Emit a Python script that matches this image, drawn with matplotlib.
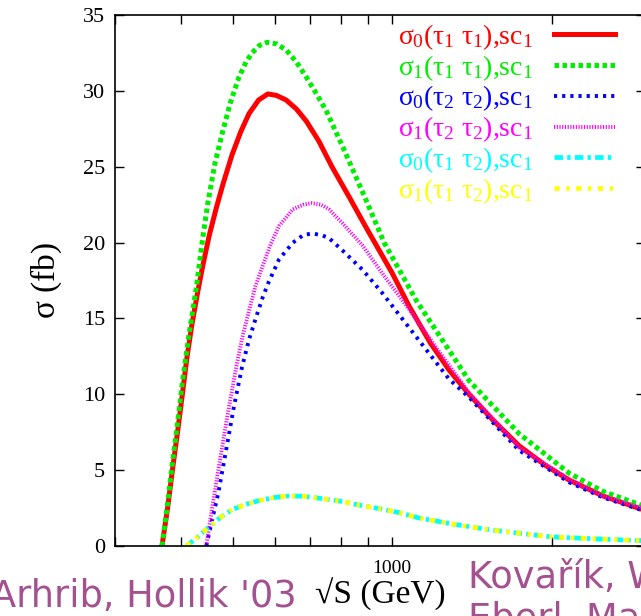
import matplotlib
matplotlib.use("Agg")
import matplotlib.pyplot as plt
from matplotlib.ticker import LogLocator, FixedLocator, NullFormatter, FixedFormatter

plt.rcParams['font.family'] = ['Liberation Serif', 'DejaVu Serif']
plt.rcParams['mathtext.fontset'] = 'custom'
plt.rcParams['mathtext.rm'] = 'Liberation Serif'
plt.rcParams['mathtext.it'] = 'Liberation Serif'
plt.rcParams['mathtext.bf'] = 'Liberation Serif:bold'

# sqrt(s) in GeV, cross sections in fb
x_red = [368, 377, 385, 394, 402, 410, 419, 430, 440, 452, 466, 480, 499, 518, 537, 560, 583, 605,
         631, 660, 689, 727, 770, 830, 893, 1000, 1077, 1180, 1281, 1397, 1550, 1737, 1950, 2158,
         2500, 3000]
y_red = [0, 2.5, 5.0, 7.6, 10.0, 12.4, 14.6, 16.8, 18.6, 20.5, 22.3, 23.9, 25.8, 27.3, 28.5, 29.4,
         29.8, 29.7, 29.4, 28.8, 28.0, 26.7, 25.0, 23.0, 21.0, 18.0, 15.8, 13.4, 11.6, 10.0, 8.3, 6.6,
         5.3, 4.35, 3.3, 2.35]

x_green = [368, 377, 385, 394, 402, 414, 427, 438, 449, 463, 478, 495, 514, 530, 544, 562, 581,
           605, 631, 660, 689, 720, 751, 812, 893, 966, 1110, 1281, 1397, 1737, 2158, 2500, 3000]
y_green = [0, 2.8, 5.5, 8.2, 10.8, 14.0, 17.0, 20.0, 22.6, 25.2, 27.2, 29.2, 30.9, 31.9, 32.5,
           33.0, 33.2, 33.1, 32.7, 31.9, 30.9, 29.8, 28.7, 26.1, 22.8, 20.0, 16.2, 12.9, 10.9, 7.4,
           4.8, 3.6, 2.6]

x_blue = [446, 458, 470, 486, 503, 521, 537, 554, 570, 585, 612, 650, 680, 706, 735, 760, 805,
          880, 957, 1110, 1281, 1397, 1737, 2158, 2500, 3000]
y_blue = [0, 1.8, 3.5, 6.3, 9.2, 11.8, 13.6, 15.1, 16.4, 17.4, 18.9, 20.0, 20.5, 20.6, 20.5,
          20.3, 19.5, 18.2, 16.7, 13.8, 11.0, 9.8, 6.3, 4.2, 3.2, 2.3]

x_mag = [446, 458, 471, 489, 508, 522, 537, 552, 569, 590, 612, 650, 680, 706, 735, 760, 805,
         880, 957, 1077, 1210, 1397, 1737, 2158, 2500, 3000]
y_mag = [0, 2.6, 5.2, 8.6, 11.8, 13.8, 15.5, 17.1, 18.4, 19.9, 21.1, 22.2, 22.5, 22.6, 22.5,
         22.2, 21.3, 19.8, 18.0, 15.6, 13.1, 10.1, 6.5, 4.4, 3.3, 2.45]

x_cyan = [409, 430, 451, 475, 499, 530, 561, 600, 639, 680, 728, 800, 866, 950, 1031, 1124,
          1300, 1543, 2002, 2500, 3000]
y_cyan = [0, 0.6, 1.25, 1.9, 2.4, 2.75, 3.0, 3.2, 3.3, 3.28, 3.15, 2.95, 2.7, 2.45, 2.2, 1.85,
          1.45, 1.05, 0.6, 0.45, 0.35]

x_yel = [409, 430, 451, 475, 499, 530, 561, 600, 639, 680, 728, 800, 866, 950, 1031, 1124,
         1300, 1543, 2002, 2500, 3000]
y_yel = [0, 0.6, 1.25, 1.9, 2.4, 2.75, 3.0, 3.2, 3.3, 3.28, 3.15, 2.95, 2.7, 2.45, 2.2, 1.85,
         1.45, 1.05, 0.6, 0.45, 0.35]

labels = [r'$\sigma_0(\tau_1\ \tau_1)$,sc$_1$',
          r'$\sigma_1(\tau_1\ \tau_1)$,sc$_1$',
          r'$\sigma_0(\tau_2\ \tau_2)$,sc$_1$',
          r'$\sigma_1(\tau_2\ \tau_2)$,sc$_1$',
          r'$\sigma_0(\tau_1\ \tau_2)$,sc$_1$',
          r'$\sigma_1(\tau_1\ \tau_2)$,sc$_1$']

fig = plt.figure(figsize=(6.41, 6.16), dpi=100)
ax = fig.add_axes([0.1794, 0.1136, 0.8268, 0.862])

ax.plot(x_red, y_red, color='#ff0000', lw=3.6, label=labels[0])
ax.plot(x_green, y_green, color='#00ee00', lw=3.6, dashes=(0.9, 0.7), label=labels[1])
ax.plot(x_blue, y_blue, color='#0000ff', lw=2.8, dashes=(0.8, 1.3), label=labels[2])
ax.plot(x_mag, y_mag, color='#ff00ff', lw=2.8, dashes=(0.3, 0.4), label=labels[3])
ax.plot(x_cyan, y_cyan, color='#00ffff', lw=3.4, dashes=(1.8, 0.9, 0.7, 0.9), label=labels[4])
ax.plot(x_yel, y_yel, color='#ffff00', lw=3.4, dashes=(1.1, 1.4, 0.7, 1.4), label=labels[5])

ax.set_xscale('log')
ax.set_xlim(300, 3000)
ax.set_ylim(0, 35)
ax.xaxis.set_major_locator(FixedLocator([1000]))
ax.xaxis.set_major_formatter(FixedFormatter(['1000']))
ax.xaxis.set_minor_locator(LogLocator(base=10, subs=range(2, 10)))
ax.xaxis.set_minor_formatter(NullFormatter())
ax.set_yticks(range(0, 36, 5))

ax.tick_params(which='both', direction='in', top=True, right=True, width=1.0, length=6.5)
ax.tick_params(axis='y', labelsize=16, pad=7)
ax.tick_params(axis='x', labelsize=14, pad=10)
for s in ax.spines.values():
    s.set_linewidth(1.2)

ax.set_xlabel('√S (GeV)', fontsize=24, labelpad=1)
ax.set_ylabel(r'$\sigma$ (fb)', fontsize=24, labelpad=14)

ax.legend(loc='upper right', frameon=False, fontsize=20, markerfirst=False,
          handlelength=2.2, handletextpad=0.75, labelspacing=0.04, labelcolor='linecolor',
          borderaxespad=0.0, bbox_to_anchor=(0.965, 1.008))

# overlaid slide text
txt = dict(color='#a3528f', fontsize=26.5, family='DejaVu Sans', va='baseline')
fig.text(297 / 641, 1 - 607 / 616, "Arhrib, Hollik '03", ha='right', **txt)
fig.text(468 / 641, 1 - 588 / 616, "Kovařík, Weber,", ha='left', **txt)
fig.text(468 / 641, 1 - 630 / 616, "Eberl, Majerotto", ha='left', **txt)

fig.savefig('out.png', dpi=100)
